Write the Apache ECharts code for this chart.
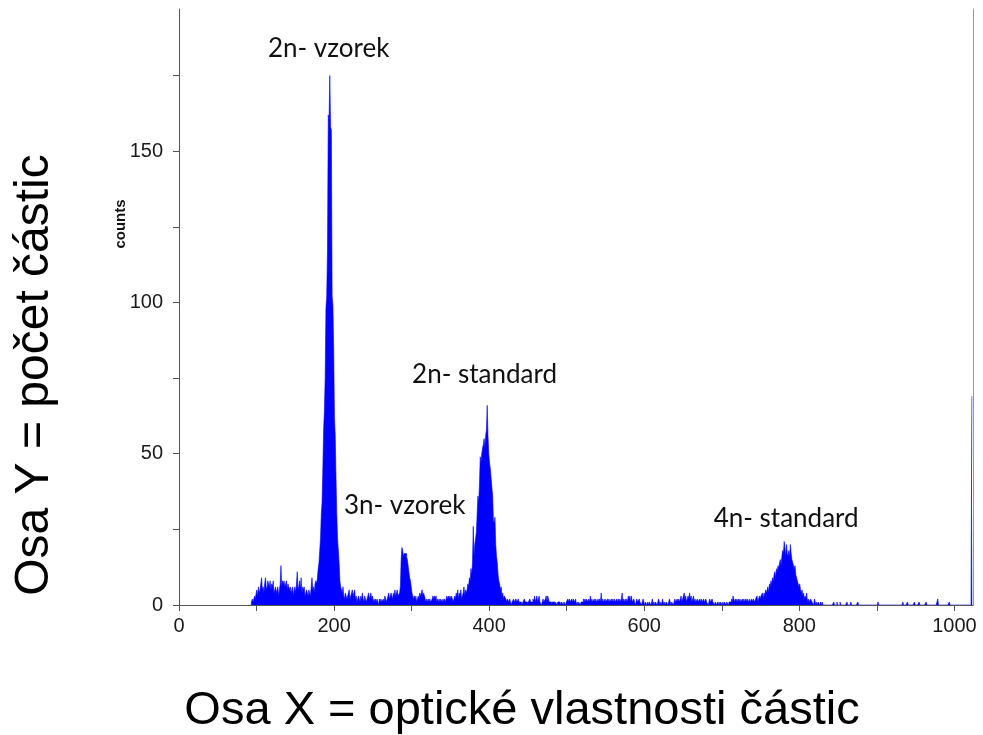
<!DOCTYPE html>
<html>
<head>
<meta charset="utf-8">
<script src="https://cdn.jsdelivr.net/npm/echarts@6/dist/echarts.min.js"></script>
<style>
  html, body { margin: 0; padding: 0; background: #fff; }
  #chart { width: 983px; height: 735px; }
</style>
</head>
<body>
<div id="chart"></div>
<script>
// Flow cytometry DNA histogram: counts per channel (0..1023).
// Each run lists consecutive channel counts starting at the given channel;
// channels not listed hold no events.
const channelCount = 1024;

const debrisStart = 94;
const debrisCounts = [1,2,1,2,3,2,4,5,3,6, 4,5,7,9,5,6,4,7,9,6, 5,8,7,6,8,5,7,6,8,4,
  5,6,4,5,6,3,5,7,13,6, 8,7,8,6,7,8,5,7,6,5, 6,4,5,6,3,5,6,4,7,11,
  5,6,8,5,9,4,6,5,6,3, 4,5,4,3,5,4,3,6,9,5, 6,4,7,8,7,9];

const sample2nStart = 180;
const sample2nCounts = [12,14,18,22,30,34,45,58,64,75, 98,102,118,162,160,175,158,157,102,99,
  85,62,56,42,30,22,18,14,8,6, 5,4,6];

const valley1Start = 213;
const valley1Counts = [3,2,4,3,2,3,4,5,2,3, 4,5,3,4,5,2,3,1,2,3, 2,1,3,2,4,2,1,3,2,1,
  2,3,4,2,3,4,2,3,1,2, 1,2,1,2,1,0,2,1,2,1, 1,2,1,3,2,1,2,3,4,2, 3,4,3,2,4,3,5,3,4,5, 3];

const sample3nStart = 284;
const sample3nCounts = [3,4,6,15,19,18,16,17,17,17,16,15,13,11,9,8,6,4,3];

const valley2Start = 303;
const valley2Counts = [2,3,2,3,1,2,3,2,4,3, 4,5,3,4,3,2,1,2,1,2, 1,2,1,1,2,3,2,3,2,3,
  1,2,1,2,1,2,2,1,2,1, 2,1,2,3,2,3,2,3,2,3, 2,1,2,3,2,4,3,5,2,4, 3,5,2,3,4,6,3,5,4];

const standard2nStart = 372;
const standard2nCounts = [5,7,6,9,8,12,10,14,26,16, 20,22,24,30,36,34,40,49,47,50,
  52,53,55,52,56,58,66,56,50,47, 45,42,39,36,28,27,29,20,16,14, 10,8,7,5,6,3,4,2,3];

const backgroundStart = 421;
const backgroundCounts = [
  3,2,1,2,2,1,2,1,0,1,1,2,1,1,2,1,1,2,1,
  1,1,1,0,1,1,2,1,1,1,0,1,1,2,1,1,1,2,
  1,3,1,2,3,1,2,3,1,
  1,0,1,2,1,1,2,3,1,3,2,1,
  1,1,0,1,1,1,0,1,1,0,1,1,1,0,0,1,1,0,1,1,0,1,
  1,2,1,2,1,1,2,1,2,1,1,2,0,1,0,1,1,0,1,1,
  1,2,1,2,1,2,2,1,2,1,3,1,2,1,1,2,1,2,1,1,2,1,2,1,
  4,1,2,1,1,2,1,
  1,2,1,2,1,1,2,1,2,1,2,1,1,2,1,2,1,2,1,2,
  4,1,2,1,2,1,2,1,3,2,3,1,3,1,
  1,2,1,0,1,2,1,1,2,1,1,0,1,2,1,0,1,1,
  0,1,0,1,1,0,1,2,0,1,0,1,1,0,1,2,1,0,1,0,2,1,0,1,0,1,1,0,1,2,1,0,1,1,0,1,2,1,1,2,1,2,1,
  2,3,1,2,3,4,2,3,1,2,3,2,4,2,3,1,2,3,1,2,
  1,1,2,1,1,2,1,2,1,1,2,1,1,2,1,1,0,1,2,1,1,2,1,1,0,1,1,
  0,1,0,1,0,1,1,0,1,0,1,1,0,1,1,0,1,1,1,2,
  1,3,2,1,2,1,2,1,2,1,2,1,1,2,1,2,1,2,1,2,2,1,2,1,1,2
];

const standard4nStart = 740;
const standard4nCounts = [1,2,2,1,2,2,3,1,2,3, 2,3,3,4,2,4,3,5,4,5, 6,4,7,6,8,7,9,8,10,11,
  9,12,11,13,12,14,15,13,16,18, 17,21,19,16,20,17,16,18,16,20, 17,15,14,13,12,13,10,9,8,7,
  6,7,5,4,5,3,4,2,3,2, 4,1,2,1,1,2,2,1,1,0, 2,1,0,1,0,1,1,0,1,0, 1];

// Sparse high-channel events; the last channel collects off-scale events.
const tailChannels = [845, 849, 853, 862, 867, 876, 902, 934, 940, 949, 955, 964, 979, 994, 1023];
const tailCounts   = [1, 1, 1, 1, 1, 1, 1, 1, 1, 1, 1, 1, 2, 1, 69];

// Axis ticks and labels
const xTickValues  = [0, 100, 200, 300, 400, 500, 600, 700, 800, 900, 1000];
const xLabelValues = [0, 200, 400, 600, 800, 1000];
const yTickValues  = [0, 25, 50, 75, 100, 125, 150, 175];
const yLabelValues = [0, 50, 100, 150];

// Peak annotations
const peakNames = ['2n- vzorek', '3n- vzorek', '2n- standard', '4n- standard'];
const peakLabelX = [193, 291, 394, 783];
const peakLabelY = [184, 33, 76, 28.5];

// One count per channel
const counts = new Array(channelCount).fill(0);
function addRun(start, values) {
  values.forEach((v, i) => { counts[start + i] = v; });
}
addRun(debrisStart, debrisCounts);
addRun(sample2nStart, sample2nCounts);
addRun(valley1Start, valley1Counts);
addRun(sample3nStart, sample3nCounts);
addRun(valley2Start, valley2Counts);
addRun(standard2nStart, standard2nCounts);
addRun(backgroundStart, backgroundCounts);
addRun(standard4nStart, standard4nCounts);
tailChannels.forEach((c, i) => { counts[c] = tailCounts[i]; });
// the empty low channels below the first event are left out of the outline
const histogram = counts.map((v, c) => [c, v]).slice(debrisStart - 1);

const tickFont = { fontFamily: '"Liberation Sans", Arial, sans-serif', fontSize: 20, color: '#1a1a1a' };
const axisColor = '#555';
const plainNumber = v => String(v);

const chart = echarts.init(document.getElementById('chart'), null, { renderer: 'canvas' });
chart.setOption({
  animation: false,
  backgroundColor: '#fff',
  grid: { left: 179, right: 10, top: 9, bottom: 130, containLabel: false },
  xAxis: {
    type: 'value', min: 0, max: 1024,
    z: 5,
    splitLine: { show: false },
    axisLine: { show: true, lineStyle: { color: axisColor, width: 1 } },
    axisTick: { show: true, length: 6, lineStyle: { color: axisColor }, customValues: xTickValues },
    axisLabel: Object.assign({ margin: 11, customValues: xLabelValues, formatter: plainNumber }, tickFont)
  },
  yAxis: [{
    type: 'value', min: 0, max: 197,
    z: 5,
    splitLine: { show: false },
    axisLine: { show: true, lineStyle: { color: axisColor, width: 1 } },
    axisTick: { show: true, length: 6, lineStyle: { color: axisColor }, customValues: yTickValues },
    axisLabel: Object.assign({ margin: 16, customValues: yLabelValues, formatter: plainNumber }, tickFont)
  }, {
    type: 'value', min: 0, max: 197, position: 'right',
    z: 0,
    splitLine: { show: false },
    axisLine: { show: true, lineStyle: { color: '#999', width: 1 } },
    axisTick: { show: false },
    axisLabel: { show: false }
  }],
  series: [{
    // stepped, filled histogram: one flat step per channel
    type: 'line',
    step: 'middle',
    data: histogram,
    showSymbol: false,
    symbol: 'none',
    lineStyle: { width: 0.6, color: '#0000ff' },
    areaStyle: { color: '#0000ff', opacity: 1 },
    silent: true,
    z: 2
  }, {
    type: 'scatter',
    symbolSize: 0,
    itemStyle: { opacity: 1 },
    data: peakNames.map((n, i) => ({ name: n, value: [peakLabelX[i], peakLabelY[i]] })),
    label: {
      show: true, position: 'inside', formatter: '{b}',
      fontFamily: 'Lato, "Open Sans", sans-serif', fontSize: 26, color: '#111'
    },
    silent: true,
    z: 3
  }],
  graphic: [{
    type: 'text', x: 35, y: 375, rotation: Math.PI / 2,
    style: {
      text: 'Osa Y = počet částic', fill: '#000',
      font: '48px "Liberation Sans", Arial, sans-serif',
      textAlign: 'center', textVerticalAlign: 'middle', align: 'center', verticalAlign: 'middle'
    }
  }, {
    type: 'text', x: 522, y: 711,
    style: {
      text: 'Osa X = optické vlastnosti částic', fill: '#000',
      font: '47px "Liberation Sans", Arial, sans-serif',
      textAlign: 'center', textVerticalAlign: 'middle', align: 'center', verticalAlign: 'middle'
    }
  }, {
    type: 'text', x: 121, y: 224, rotation: Math.PI / 2,
    style: {
      text: 'counts', fill: '#111',
      font: 'bold 15px "Liberation Sans", Arial, sans-serif',
      textAlign: 'center', textVerticalAlign: 'middle', align: 'center', verticalAlign: 'middle'
    }
  }]
});
</script>
</body>
</html>
